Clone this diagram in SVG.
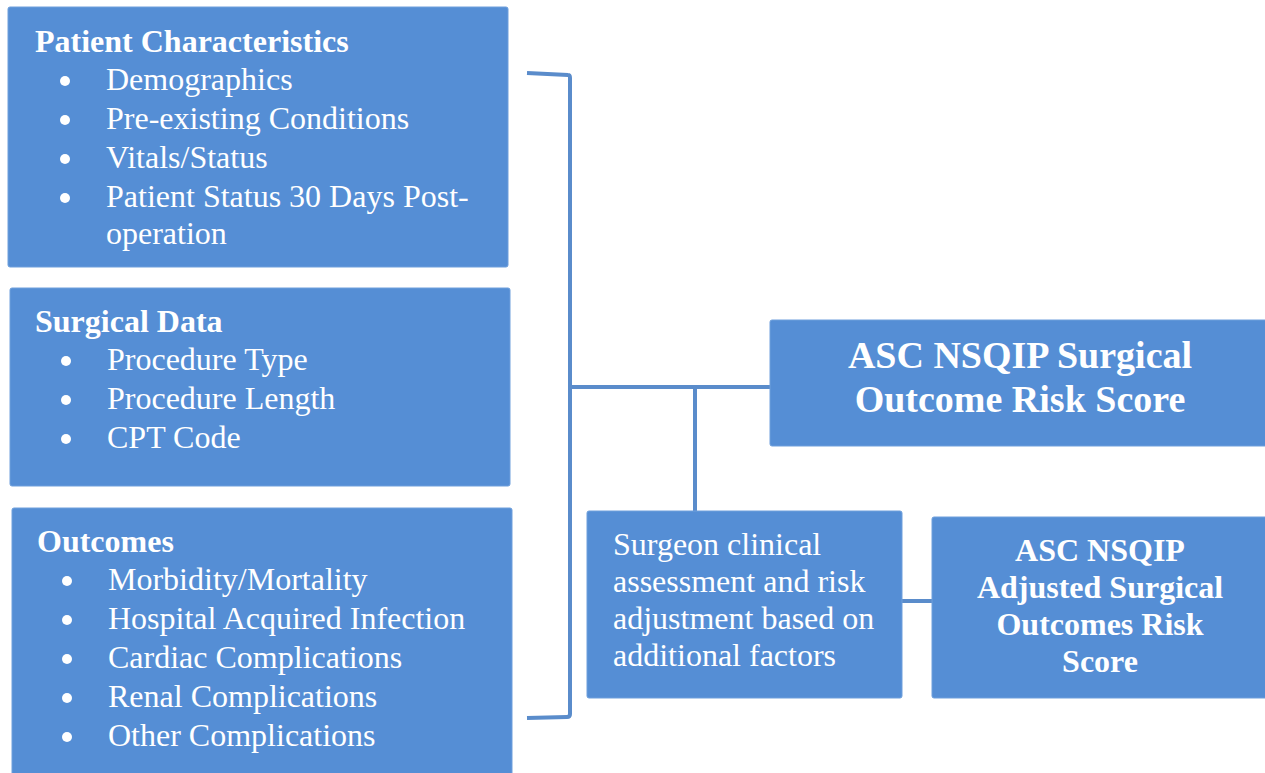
<svg xmlns="http://www.w3.org/2000/svg" width="1265" height="773" viewBox="0 0 1265 773">
<defs>
<style>
.box{fill:#558ED5;stroke:#6E9FDC;stroke-width:1}
text{font-family:'Liberation Serif','Times New Roman',Times,serif;fill:#FFFFFF}
.h{font-size:32px;font-weight:bold}
.i{font-size:32px}
.big{font-size:38px;font-weight:bold}
.b{font-size:32px;font-weight:bold}
.dot{fill:#FFFFFF}
.con{fill:none;stroke:#5A8CCB;stroke-width:4;stroke-linejoin:round}
</style>
</defs>
<rect width="1265" height="773" fill="#FFFFFF"/>
<g id="connectors">
<path class="con" d="M527 73 L568 75 Q570 75 570 78 L570 714 Q570 717 567 717 L527 718"/>
<path class="con" d="M570 387 L770 387"/>
<path class="con" d="M695 387 L695 511"/>
<path class="con" d="M902 601 L932 601"/>
</g>
<g id="patient">
<rect class="box" x="8" y="7" width="500" height="260" rx="2"/>
<text class="h" x="35" y="52">Patient Characteristics</text>
<circle class="dot" cx="65" cy="81" r="5"/>
<text class="i" x="106" y="90">Demographics</text>
<circle class="dot" cx="65" cy="120" r="5"/>
<text class="i" x="106" y="129">Pre-existing Conditions</text>
<circle class="dot" cx="65" cy="159" r="5"/>
<text class="i" x="106" y="168">Vitals/Status</text>
<circle class="dot" cx="65" cy="198" r="5"/>
<text class="i" x="106" y="207">Patient Status 30 Days Post-</text>
<text class="i" x="106" y="244">operation</text>
</g>
<g id="surgical">
<rect class="box" x="10" y="288" width="500" height="198" rx="2"/>
<text class="h" x="35" y="332">Surgical Data</text>
<circle class="dot" cx="66" cy="361" r="5"/>
<text class="i" x="107" y="370">Procedure Type</text>
<circle class="dot" cx="66" cy="400" r="5"/>
<text class="i" x="107" y="409">Procedure Length</text>
<circle class="dot" cx="66" cy="439" r="5"/>
<text class="i" x="107" y="448">CPT Code</text>
</g>
<g id="outcomes">
<rect class="box" x="12" y="508" width="500" height="270" rx="2"/>
<text class="h" x="37" y="552">Outcomes</text>
<circle class="dot" cx="67" cy="581" r="5"/>
<text class="i" x="108" y="590">Morbidity/Mortality</text>
<circle class="dot" cx="67" cy="620" r="5"/>
<text class="i" x="108" y="629">Hospital Acquired Infection</text>
<circle class="dot" cx="67" cy="659" r="5"/>
<text class="i" x="108" y="668">Cardiac Complications</text>
<circle class="dot" cx="67" cy="698" r="5"/>
<text class="i" x="108" y="707">Renal Complications</text>
<circle class="dot" cx="67" cy="737" r="5"/>
<text class="i" x="108" y="746">Other Complications</text>
</g>
<g id="score">
<rect class="box" x="770" y="320" width="500" height="126" rx="2"/>
<text class="big" text-anchor="middle" x="1020" y="368">ASC NSQIP Surgical</text>
<text class="big" text-anchor="middle" x="1020" y="412">Outcome Risk Score</text>
</g>
<g id="surgeon">
<rect class="box" x="587" y="511" width="315" height="187" rx="2"/>
<text class="i" x="613" y="555">Surgeon clinical</text>
<text class="i" x="613" y="592">assessment and risk</text>
<text class="i" x="613" y="629">adjustment based on</text>
<text class="i" x="613" y="666">additional factors</text>
</g>
<g id="adjusted">
<rect class="box" x="932" y="517" width="340" height="181" rx="2"/>
<text class="b" text-anchor="middle" x="1100" y="561">ASC NSQIP</text>
<text class="b" text-anchor="middle" x="1100" y="598">Adjusted Surgical</text>
<text class="b" text-anchor="middle" x="1100" y="635">Outcomes Risk</text>
<text class="b" text-anchor="middle" x="1100" y="672">Score</text>
</g>
</svg>
